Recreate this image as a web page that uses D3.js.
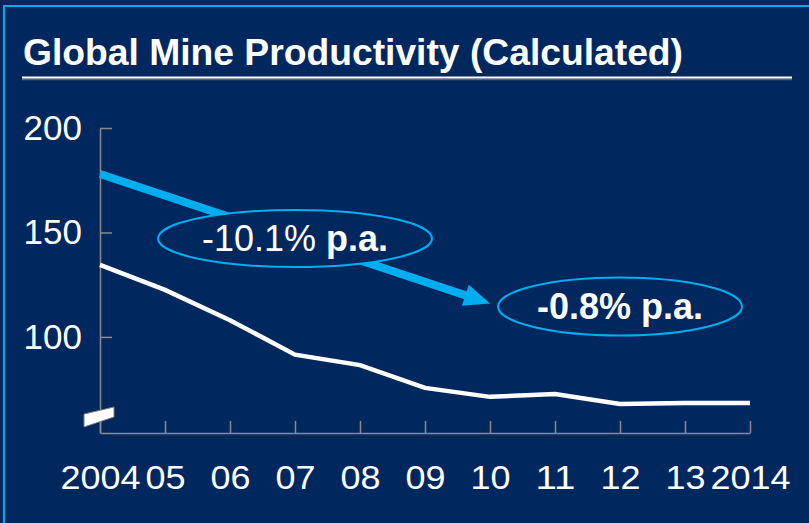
<!DOCTYPE html>
<html>
<head>
<meta charset="utf-8">
<script src="https://cdn.jsdelivr.net/npm/d3@7"></script>
<style>
  body { margin: 0; background: #00285e; }
  svg { display: block; }
</style>
</head>
<body>
<div id="container"></div>
<script>
// Data
var years = [2004, 2005, 2006, 2007, 2008, 2009, 2010, 2011, 2012, 2013, 2014];
var productivity = [134.5, 122.5, 108, 91.5, 86.5, 75.6, 71.3, 72.7, 67.9, 68.4, 68.4];
var yearLabels = ["2004", "05", "06", "07", "08", "09", "10", "11", "12", "13", "2014"];
var yTicks = [100, 150, 200];

// Trend arrow (year, value) and the two rate labels
var trendArrow = [[2004, 178], [2010, 116]];
var rateLabels = ["-10.1%", "-0.8% p.a."];

var width = 809,
    height = 523;

var navy = "#00285e",
    lightBlue = "#00aeef",
    axisGrey = "#8a8a8a";

var svg = d3.select("#container")
            .append("svg")
              .attr("width", width)
              .attr("height", height)
              .style("font-family", "'Liberation Sans', Arial, sans-serif");

svg.append("rect")
    .attr("width", width)
    .attr("height", height)
    .attr("fill", navy);

// Frame lines (top and left)
svg.append("line")
    .attr("x1", 3).attr("x2", width)
    .attr("y1", 6).attr("y2", 6)
    .attr("stroke", lightBlue)
    .attr("stroke-width", 2);
svg.append("line")
    .attr("x1", 4).attr("x2", 4)
    .attr("y1", 5).attr("y2", height)
    .attr("stroke", lightBlue)
    .attr("stroke-width", 2);

// Title + underline
svg.append("text")
    .attr("x", 23)
    .attr("y", 65)
    .attr("fill", "white")
    .style("font-size", "37px")
    .style("font-weight", "bold")
    .attr("textLength", 660)
    .attr("lengthAdjust", "spacingAndGlyphs")
    .text("Global Mine Productivity (Calculated)");

svg.append("line")
    .attr("x1", 22).attr("x2", 792)
    .attr("y1", 79.5).attr("y2", 79.5)
    .attr("stroke", "#5a6478")
    .attr("stroke-width", 1.5);
svg.append("line")
    .attr("x1", 22).attr("x2", 792)
    .attr("y1", 77.5).attr("y2", 77.5)
    .attr("stroke", "white")
    .attr("stroke-width", 2);

// Scales
var x = d3.scaleLinear()
          .domain([2004, 2014])
          .range([100, 750]);

var y = d3.scaleLinear()
          .domain([54, 200])
          .range([433, 128]);

// Y axis
var yAxis = svg.append("g")
    .attr("transform", "translate(" + x(2004) + ",0)")
    .call(d3.axisLeft(y)
            .tickValues(yTicks)
            .tickSizeInner(-12)
            .tickSizeOuter(0)
            .tickPadding(18));

// X axis
var xAxis = svg.append("g")
    .attr("transform", "translate(0," + y(54) + ")")
    .call(d3.axisBottom(x)
            .tickValues(years)
            .tickFormat(function(d, i) { return yearLabels[i]; })
            .tickSizeInner(-12)
            .tickSizeOuter(0)
            .tickPadding(33));

[yAxis, xAxis].forEach(function(ax) {
  ax.select(".domain").attr("stroke", axisGrey).attr("stroke-width", 1.5);
  ax.selectAll(".tick line").attr("stroke", axisGrey).attr("stroke-width", 1.5);
  ax.selectAll(".tick text")
      .attr("fill", "white")
      .style("font-family", "'Liberation Sans', Arial, sans-serif");
});

yAxis.selectAll(".tick text").style("font-size", "35px");

// x labels are drawn a little wide in the original
xAxis.selectAll(".tick text")
    .style("font-size", "33px")
    .attr("textLength", function(d, i) { return yearLabels[i].length * 20; })
    .attr("lengthAdjust", "spacingAndGlyphs");

// Axis break symbol
svg.append("polygon")
    .attr("points", "84,414 114,407 114,417 84,427")
    .attr("fill", "white")
    .attr("stroke", "#7a7a7a")
    .attr("stroke-width", 1);

// Productivity line
var line = d3.line()
             .x(function(d, i) { return x(years[i]); })
             .y(function(d) { return y(d); });

svg.append("path")
    .datum(productivity)
    .attr("d", line)
    .attr("fill", "none")
    .attr("stroke", "white")
    .attr("stroke-width", 4.5)
    .attr("stroke-linejoin", "miter");

// Trend arrow
var ax0 = x(trendArrow[0][0]), ay0 = y(trendArrow[0][1]),
    ax1 = x(trendArrow[1][0]), ay1 = y(trendArrow[1][1]);
var ang = Math.atan2(ay1 - ay0, ax1 - ax0);
var headLen = 26, headHalf = 11;
var bx = ax1 - headLen * Math.cos(ang),
    by = ay1 - headLen * Math.sin(ang);

svg.append("line")
    .attr("x1", ax0).attr("y1", ay0)
    .attr("x2", bx + 2 * Math.cos(ang)).attr("y2", by + 2 * Math.sin(ang))
    .attr("stroke", lightBlue)
    .attr("stroke-width", 8);

svg.append("polygon")
    .attr("points", [
      [ax1, ay1],
      [bx - headHalf * Math.sin(ang), by + headHalf * Math.cos(ang)],
      [bx + headHalf * Math.sin(ang), by - headHalf * Math.cos(ang)]
    ].join(" "))
    .attr("fill", lightBlue);

// Rate ellipses
svg.append("ellipse")
    .attr("cx", 295).attr("cy", 238.5)
    .attr("rx", 137).attr("ry", 28.5)
    .attr("fill", navy)
    .attr("stroke", lightBlue)
    .attr("stroke-width", 2);

svg.append("ellipse")
    .attr("cx", 620).attr("cy", 306.5)
    .attr("rx", 122).attr("ry", 29)
    .attr("fill", navy)
    .attr("stroke", lightBlue)
    .attr("stroke-width", 2);

var t1 = svg.append("text")
    .attr("x", 295)
    .attr("y", 251)
    .attr("text-anchor", "middle")
    .attr("fill", "white")
    .style("font-size", "36px");
t1.append("tspan").text(rateLabels[0] + " ");
t1.append("tspan").style("font-weight", "bold").text("p.a.");

svg.append("text")
    .attr("x", 620)
    .attr("y", 319)
    .attr("text-anchor", "middle")
    .attr("fill", "white")
    .style("font-size", "36px")
    .style("font-weight", "bold")
    .text(rateLabels[1]);
</script>
</body>
</html>
